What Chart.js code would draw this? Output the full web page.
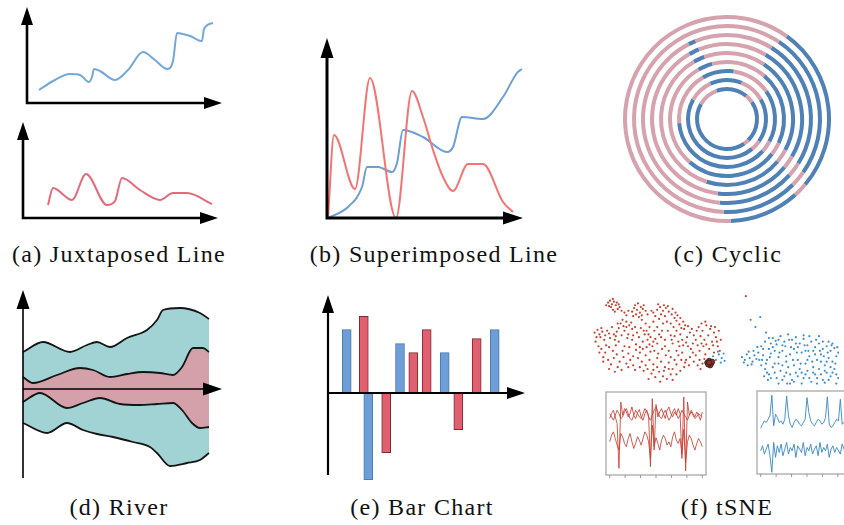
<!DOCTYPE html>
<html>
<head>
<meta charset="utf-8">
<script src="https://cdn.jsdelivr.net/npm/chart.js@4.4.1/dist/chart.umd.min.js"></script>
<style>
html, body { margin: 0; padding: 0; background: #fff; overflow: hidden; }
#fig { position: relative; width: 844px; height: 525px; overflow: hidden; }
#fig canvas { position: absolute; }
.cap { position: absolute; width: 300px; text-align: center;
       font-family: "Liberation Serif", "DejaVu Serif", "Noto Serif", serif;
       font-size: 24px; letter-spacing: 1.3px; line-height: 24px; color: #111; white-space: nowrap; }
</style>
</head>
<body>
<div id="fig">
  <div class="cap" style="left:-31px;top:242px">(a) Juxtaposed Line</div>
  <div class="cap" style="left:284px;top:242px">(b) Superimposed Line</div>
  <div class="cap" style="left:578px;top:242px">(c) Cyclic</div>
  <div class="cap" style="left:-31px;top:495px">(d) River</div>
  <div class="cap" style="left:272px;top:495px">(e) Bar Chart</div>
  <div class="cap" style="left:577px;top:495px">(f) tSNE</div>
</div>
<script>
// ---- data (offsets from each panel's axis origin) ----

// (a) juxtaposed
const juxtBlue = [[12,13],[26,22],[43,29],[53,28],[62,21],[65,26],[67,34],[73,32],[88,23],[101,33],[116,51],[128,43],[140,34],[146,42],[150,70],[163,67],[175,62],[177,74],[186,80]];
const juxtRed = [[25,13],[30,30],[49,18],[63,44],[84,13],[92,17],[99,40],[117,28],[137,18],[150,25],[164,25],[189,14]];

// (b) superimposed
const superRed = [[1,0],[7,83],[28,29],[43,140],[69,0],[85,127],[96,101],[106,68],[116,41],[126,27],[141,54],[156,54],[176,16],[186,6]];
const superBlue = [[1,0],[21,11],[35,31],[40,51],[51,51],[65,46],[70,55],[76,88],[96,81],[120,66],[126,71],[135,101],[156,99],[176,121],[190,145],[195,149]];

// (c) cyclic: arc spans in degrees, clockwise from top, colours alternate
const ringSpans = [
  [36,94,8,40,182],
  [34,91,10,47,178],
  [32,90,10,53,148,5,22],
  [31,89,10,57,143,8,22],
  [34,84,12,68,132,10,20],
  [41,74,13,93,109,15,15],
  [8,47,63,14,133,65,30],
  [22,38,65,15,160,35,25],
  [40,16,79,10,155,40,20]
];
const ringFirst = ['p','p','p','p','p','p','b','b','b'];

// (d) river boundaries
const riverOuterTop = [[0,37],[20,47],[47,37],[64,44],[74,47],[87,42],[104,51],[124,59],[134,69],[140,79],[157,81],[177,76],[186,70]];
const riverInnerTop = [[0,12],[10,6],[34,14],[57,21],[70,19],[87,12],[104,15],[120,17],[137,16],[150,14],[159,22],[170,41],[180,41],[186,37]];
const riverInnerBottom = [[0,-13],[17,-4],[44,-19],[60,-14],[77,-9],[97,-15],[117,-16],[134,-15],[150,-14],[159,-21],[169,-34],[177,-39],[186,-38]];
const riverOuterBottom = [[0,-34],[24,-44],[44,-34],[60,-41],[74,-45],[90,-48],[110,-53],[127,-58],[134,-64],[147,-77],[164,-74],[177,-71],[186,-64]];

// (e) bar chart
const blueBarX = [18.7, 40.3, 72, 116.7, 166.7];
const blueBarV = [63.4, -86.6, 49.4, 40.4, 63.4];
const redBarX = [35.8, 58.2, 85.3, 98.7, 130.3, 148.7];
const redBarV = [76.7, -59.6, 40.4, 63.4, -36.6, 54.4];

// (f) tSNE embedding
const tsneRed = [
  [19,93],[21,95],[23,91],[25,94],[22,88],[27,90],[29,86],[24,85],[31,88],[26,83],[20,89],[33,84],[28,93],
  [47,90],[50,92],[53,88],[49,85],[52,82],[55,86],[48,80],[54,79],[51,77],
  [36,82],[40,84],[44,83],[38,79],
  [70,85],[73,88],[76,84],[79,87],[82,83],[74,80],[78,78],[85,80],[88,76],[72,75],[80,72],[84,70],[90,73],[93,69],[76,70],[87,66],[95,65],[68,78],[81,89],[91,79],
  [5,60],[8,63],[10,58],[13,61],[16,57],[12,65],[18,62],[7,55],[20,59],
  [32,70],[35,67],[38,72],[41,68],[44,64],[36,62],[40,58],[47,66],[43,71],[33,57],[49,60],[38,66],
  [60,52],[63,55],[66,50],[62,47],[68,53],[57,58],[65,45],[70,48],[55,50],[72,58],[59,62],[75,62],
  [90,62],[94,58],[98,64],[101,55],[104,60],[96,52],[108,57],[92,50],[100,49],[106,64],[110,52],
  [113,66],[117,62],[121,68],[125,64],[129,60],[115,56],[119,52],[123,57],[127,50],[131,55],[133,45],[118,45],[124,42],[129,38],[114,40],[120,36],[135,40],[126,67],
  [12,42],[16,38],[20,44],[24,40],[28,36],[14,33],[19,30],[25,32],[31,28],[35,33],[22,25],[29,22],[38,26],[42,30],[45,24],[34,40],[40,37],[17,46],[9,45],[27,46],
  [50,32],[54,28],[58,35],[62,30],[66,25],[70,32],[74,28],[78,22],[82,27],[86,20],[90,25],[94,18],[98,22],[60,20],[64,15],[68,11],[72,17],[76,12],[80,9],[56,18],[84,14],[88,30],[92,35],[52,38],[63,39],[100,30],[96,38],[58,24],
  [48,47],[52,44],[78,45],[82,40],[86,48],[105,42],[110,35],[108,28],[103,24],[114,30],[44,52],[26,52],[30,50],[62,66],[66,72],[58,70],[54,74],[84,57],[45,78],[64,84],[60,80],
  [17,90],[30,91],[24,97],[46,87],[56,90],[58,84],[66,82],[71,91],[77,90],[86,86],[89,82],[94,76],[97,72],[99,68],[102,67],
  [11,55],[15,52],[21,54],[25,58],[28,61],[30,65],[34,74],[29,70],[23,66],[27,56],[39,54],[45,57],[51,55],[53,65],[56,62],
  [61,58],[67,62],[70,66],[74,55],[78,52],[81,62],[85,52],[88,56],[93,45],[97,46],[102,45],[107,48],[112,46],[116,48],[121,47],
  [128,46],[132,50],[136,52],[130,66],[134,62],[111,62],[116,70],[120,72],[6,50],[10,38],[14,28],[20,20],[26,17],[33,19],[40,22],
  [47,19],[52,22],[45,34],[48,41],[36,45],[41,44],[55,42],[59,44],[67,40],[71,37],[75,42],[79,35],[84,33],[90,40],[95,30],
  [99,27],[104,33],[107,38],[112,24],[117,26],[119,31],[115,20],[70,22],[73,6],[77,18],[82,20],[90,14],[61,9],[66,19],[86,8],
  [162,100]
];
const tsneBlob = [[122,27],[124,29],[126,26],[125,24],[123,25],[127,28],[124,27]];
const tsneBlue = [
  [158,33],[161,30],[163,36],[166,32],[169,28],[165,39],[171,35],[168,25],[173,31],[175,38],
  [167,74],[177,77],[183,60],[172,66],
  [128,34],[131,30],[134,36],[137,32],[140,29],[133,39],[136,27],[139,37],
  [178,45],[182,50],[186,42],[190,54],[194,47],[198,56],[202,50],[206,58],[210,52],[214,55],[218,48],[222,53],[226,46],[230,50],[234,44],[238,48],[242,42],[246,45],[250,40],[254,43],[258,38],
  [180,35],[184,30],[188,37],[192,26],[196,33],[200,40],[204,28],[208,36],[212,42],[216,30],[220,38],[224,26],[228,34],[232,40],[236,30],[240,36],[244,24],[248,32],[252,28],[256,34],
  [182,20],[186,14],[190,22],[194,10],[198,18],[202,12],[206,22],[210,8],[214,16],[218,20],[222,10],[226,18],[230,6],[234,14],[238,20],[242,8],[246,16],[250,12],[254,20],[258,10],
  [178,24],[185,8],[196,4],[208,4],[220,4],[232,22],[244,5],[256,4],[200,46],[188,48],[212,24],[224,40],[236,10],[248,50],[216,44],[228,56],[204,34],[192,40],[240,28],[252,48],
  [160,27],[164,24],[170,40],[174,44],[176,30],[180,42],[183,26],[187,33],[190,44],[193,51],[197,38],[200,24],[203,45],[207,52],[211,30],
  [215,38],[219,26],[223,46],[227,40],[231,28],[235,52],[239,40],[243,34],[247,38],[251,46],[255,26],[257,44],[184,16],[188,10],[192,16],
  [196,26],[200,8],[204,16],[208,14],[212,6],[216,12],[220,16],[224,14],[228,10],[232,16],[236,4],[240,14],[244,18],[248,8],[252,16],
  [256,14],[181,12],[179,30],[205,4],[226,30],[234,36],[246,28],[250,22],[238,56],[242,50],[222,57],[214,48],[196,52],[186,54],[209,44]
];
// (f) signal snippets
const redSigA = [68,74,78,70,62,8,88,72,80,76,70,74,82,72,68,75,79,70,66,74,78,72,10,92,30,85,70,76,80,74,68,78,82,74,70,76,72,80,74,20,94,5,88,72,78,74,70,76,72,66,76];
const redSigB = [40,48,52,44,36,30,50,46,38,34,44,50,40,32,38,46,42,36,44,52,48,40,20,60,34,45,38,30,42,48,44,36,40,34,46,52,42,38,44,25,55,15,40,48,44,36,30,38,44,40,34];
const redSigC = [74,70,66,72,78,74,68,70,76,80,74,68,66,72,78,74,70,68,74,80,76,70,66,72,78,82,76,70,68,74,78,72,66,70,76,80,74,68,72,78,74,70,66,72,76,72,68,70,74,72,70];
const blueSigA = [55,60,64,62,66,70,95,58,72,68,62,64,60,66,94,70,60,56,62,66,64,60,58,62,66,92,74,64,60,58,62,66,64,60,62,68,93,60,56,58,62,66,64,90,60,62,58,64,60,66,62];
const blueSigB = [28,34,24,30,36,22,2,38,20,34,26,36,22,30,38,24,32,28,36,20,34,30,26,38,22,32,28,36,24,30,34,22,38,26,32,28,36,20,30,34,26,32,28,24,36,30,22,34,28,30,26];

// ---- helpers ----
const PINK = '#d6a2ad', STEEL = '#4f80b6';
const fig = document.getElementById('fig');

function makeCanvas(left, top, w, h) {
  const c = document.createElement('canvas');
  c.width = w; c.height = h;
  c.style.left = left + 'px'; c.style.top = top + 'px';
  c.style.width = w + 'px'; c.style.height = h + 'px';
  fig.appendChild(c);
  return c;
}

// scale ranges so that data units are px offsets from the axis origin
function panel(left, top, w, h, ox, oy) {
  return {
    canvas: makeCanvas(left, top, w, h),
    xr: [left - ox, left + w - ox],
    yr: [oy - (top + h), oy - top]
  };
}

function baseOptions(xr, yr) {
  return {
    responsive: false, animation: false, events: [],
    layout: { padding: 0 },
    plugins: { legend: { display: false }, tooltip: { enabled: false } },
    scales: {
      x: { type: 'linear', display: false, offset: false, min: xr[0], max: xr[1] },
      y: { type: 'linear', display: false, min: yr[0], max: yr[1] }
    }
  };
}

const pts = arr => arr.map(p => ({ x: p[0], y: p[1] }));

// axes with arrow heads, drawn from the chart's own scales
const arrowAxes = {
  id: 'arrowAxes',
  afterDatasetsDraw(chart, args, o) {
    if (!o || o.xTip === undefined) return;
    const ctx = chart.ctx, sx = chart.scales.x, sy = chart.scales.y;
    const ox = sx.getPixelForValue(0), oy = sy.getPixelForValue(0);
    const tx = sx.getPixelForValue(o.xTip), ty = sy.getPixelForValue(o.yTip);
    const by = sy.getPixelForValue(o.yBottom || 0);
    ctx.save();
    ctx.strokeStyle = '#000'; ctx.fillStyle = '#000'; ctx.lineWidth = o.lw;
    ctx.beginPath();
    ctx.moveTo(ox, by + (o.yBottom ? 0 : o.lw / 2)); ctx.lineTo(ox, ty + o.len - 1);
    ctx.moveTo(ox, oy); ctx.lineTo(tx - o.len + 1, oy);
    ctx.stroke();
    ctx.beginPath();
    ctx.moveTo(ox, ty); ctx.lineTo(ox - o.half, ty + o.len); ctx.lineTo(ox + o.half, ty + o.len); ctx.closePath();
    ctx.moveTo(tx, oy); ctx.lineTo(tx - o.len, oy - o.half); ctx.lineTo(tx - o.len, oy + o.half); ctx.closePath();
    ctx.fill();
    ctx.restore();
  }
};

// grey frame + bottom tick marks for the small signal plots
const boxFrame = {
  id: 'boxFrame',
  afterDraw(chart) {
    const ctx = chart.ctx, a = chart.chartArea, sx = chart.scales.x;
    ctx.save();
    ctx.strokeStyle = '#b4b4b4'; ctx.lineWidth = 1.5;
    ctx.strokeRect(a.left, a.top, a.width, a.height);
    ctx.lineWidth = 1; ctx.strokeStyle = '#999';
    ctx.beginPath();
    for (let i = 0; i <= 6; i++) {
      const x = sx.getPixelForValue(i * 50 / 6);
      ctx.moveTo(x, a.bottom); ctx.lineTo(x, a.bottom + 3);
    }
    ctx.stroke();
    ctx.restore();
  }
};

function lineSet(data, color, width) {
  return { data: pts(data), borderColor: color, borderWidth: width, pointRadius: 0,
           cubicInterpolationMode: 'monotone', fill: false, clip: false };
}

// ---- (a) juxtaposed line ----
{
  const p = panel(15, 0, 215, 112, 27, 103);
  const opt = baseOptions(p.xr, p.yr);
  opt.plugins.arrowAxes = { xTip: 195, yTip: 96, lw: 2.6, len: 18, half: 6 };
  new Chart(p.canvas, { type: 'line', data: { datasets: [lineSet(juxtBlue, '#74a7da', 2)] }, options: opt, plugins: [arrowAxes] });
}
{
  const p = panel(11, 114, 215, 112, 23, 218);
  const opt = baseOptions(p.xr, p.yr);
  opt.plugins.arrowAxes = { xTip: 195, yTip: 96, lw: 2.6, len: 18, half: 6 };
  new Chart(p.canvas, { type: 'line', data: { datasets: [lineSet(juxtRed, '#e36a7b', 2)] }, options: opt, plugins: [arrowAxes] });
}

// ---- (b) superimposed line ----
{
  const p = panel(315, 30, 215, 196, 327, 218);
  const opt = baseOptions(p.xr, p.yr);
  opt.plugins.arrowAxes = { xTip: 196, yTip: 180, lw: 3, len: 20, half: 6.5 };
  new Chart(p.canvas, {
    type: 'line',
    data: { datasets: [lineSet(superRed, '#f47474', 2), lineSet(superBlue, '#6c9fd5', 2)] },
    options: opt, plugins: [arrowAxes]
  });
}

// ---- (c) cyclic ----
{
  const c = makeCanvas(623, 15, 208, 208);
  const datasets = [];
  ringSpans.forEach((spans, i) => {
    if (i > 0) datasets.push({ data: [1], backgroundColor: ['rgba(0,0,0,0)'], weight: 5, borderWidth: 0 });
    const colors = spans.map((s, j) => ((j % 2 === 0) === (ringFirst[i] === 'p')) ? PINK : STEEL);
    datasets.push({ data: spans, backgroundColor: colors, weight: 4, borderWidth: 0 });
  });
  new Chart(c, {
    type: 'doughnut',
    data: { datasets },
    options: {
      responsive: false, animation: false, events: [],
      cutout: 28, rotation: 0,
      layout: { padding: 0 },
      elements: { arc: { borderWidth: 0, hoverOffset: 0, offset: 0 } },
      plugins: { legend: { display: false }, tooltip: { enabled: false } }
    }
  });
}

// ---- (d) river ----
{
  const p = panel(8, 284, 224, 200, 23, 389);
  const opt = baseOptions(p.xr, p.yr);
  opt.plugins.filler = { drawTime: 'beforeDatasetsDraw' };
  opt.plugins.arrowAxes = { xTip: 199, yTip: 99, yBottom: -89, lw: 1.6, len: 19, half: 6.5 };
  const edge = d => ({ data: pts(d), borderColor: '#151515', borderWidth: 1.8, pointRadius: 0,
                       cubicInterpolationMode: 'monotone', clip: false });
  new Chart(p.canvas, {
    type: 'line',
    data: { datasets: [
      Object.assign(edge(riverInnerTop), { fill: 1, backgroundColor: '#d4a1aa' }),
      Object.assign(edge(riverInnerBottom), { fill: false }),
      Object.assign(edge(riverOuterTop), { fill: 3, backgroundColor: '#a2d3d4' }),
      Object.assign(edge(riverOuterBottom), { fill: false })
    ] },
    options: opt, plugins: [arrowAxes]
  });
}

// ---- (e) bar chart ----
{
  const p = panel(315, 288, 220, 196, 328, 393);
  const opt = baseOptions(p.xr, p.yr);
  opt.plugins.arrowAxes = { xTip: 197, yTip: 98, yBottom: -82, lw: 2.2, len: 18, half: 6 };
  const bars = (xs, vs, fillC, lineC) => ({
    data: xs.map((x, i) => ({ x, y: vs[i] })), backgroundColor: fillC, borderColor: lineC,
    borderWidth: 1, borderSkipped: false, barThickness: 9, grouped: false
  });
  new Chart(p.canvas, {
    type: 'bar',
    data: { datasets: [bars(blueBarX, blueBarV, '#6d9fd6', '#4a78b8'), bars(redBarX, redBarV, '#e1606f', '#7e2a32')] },
    options: opt, plugins: [arrowAxes]
  });
}

// ---- (f) tSNE ----
{
  const c = makeCanvas(585, 285, 259, 107);
  const opt = baseOptions([0, 259], [0, 107]);
  new Chart(c, {
    type: 'scatter',
    data: { datasets: [
      { data: pts(tsneBlob), pointRadius: 2.6, backgroundColor: '#9a2a1a', borderColor: '#222', pointBorderWidth: 0.8 },
      { data: pts(tsneRed), pointRadius: 1.1, backgroundColor: '#c8412f', pointBorderWidth: 0 },
      { data: pts(tsneBlue), pointRadius: 1.1, backgroundColor: '#3f8fcf', pointBorderWidth: 0 }
    ] },
    options: opt
  });
}
function signalBox(left, top, series, color) {
  const c = makeCanvas(left, top, 106, 90);
  const opt = baseOptions([-2, 52], [0, 100]);
  opt.layout.padding = { left: 3, right: 3, top: 3, bottom: 4 };
  new Chart(c, {
    type: 'line',
    data: { datasets: series.map(s => ({
      data: s.map((v, i) => ({ x: i, y: v })), borderColor: color, borderWidth: 1, pointRadius: 0, tension: 0
    })) },
    options: opt, plugins: [boxFrame]
  });
}
signalBox(603, 389, [redSigC, redSigA, redSigB], 'rgba(200,65,50,0.85)');
signalBox(754, 388, [blueSigA, blueSigB], 'rgba(55,135,200,0.9)');
</script>
</body>
</html>
